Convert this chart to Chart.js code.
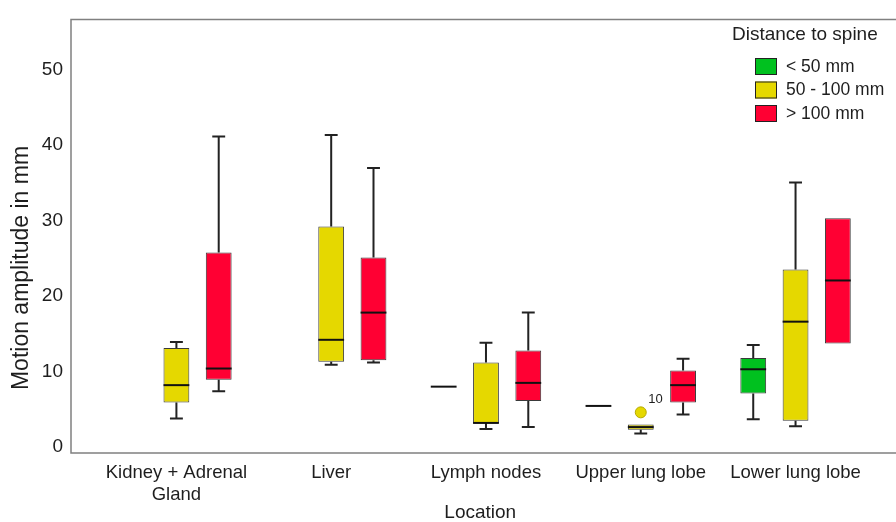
<!DOCTYPE html>
<html>
<head>
<meta charset="utf-8">
<script src="https://cdn.jsdelivr.net/npm/chart.js@4.4.1/dist/chart.umd.min.js"></script>
<style>
html, body { margin: 0; padding: 0; background: #fff; }
</style>
</head>
<body>
<canvas id="chart" width="896" height="522"></canvas>
<script>
const categories = [["Kidney + Adrenal", "Gland"], "Liver", "Lymph nodes", "Upper lung lobe", "Lower lung lobe"];
const seriesNames = ["< 50 mm", "50 - 100 mm", "> 100 mm"];
const seriesColors = ["#00c11f", "#e5d800", "#ff0033"];

// [min, q1, median, q3, max] for each location
const statsUnder50 = [null, null, [8.0, 8.0, 8.0, 8.0, 8.0], [5.45, 5.45, 5.45, 5.45, 5.45], [3.7, 7.1, 10.3, 11.8, 13.5]];
const stats50to100 = [[3.8, 5.9, 8.2, 13.1, 13.9], [10.9, 11.3, 14.2, 29.2, 41.3], [2.4, 3.2, 3.2, 11.2, 13.8], [1.8, 2.3, 2.65, 3.0, 3.0], [2.75, 3.5, 16.6, 23.5, 35.0]];
const statsOver100 = [[7.4, 8.9, 10.4, 25.75, 41.1], [11.2, 11.5, 17.8, 25.1, 36.95], [2.65, 6.1, 8.5, 12.8, 17.8], [4.3, 5.9, 8.2, 10.15, 11.7], [13.7, 13.7, 22.05, 30.3, 30.3]];

// outlier of the 50 - 100 mm group
const outlierLocation = [3];
const outlierValues = [4.6];
const outlierLabels = ["10"];

const yTicks = [0, 10, 20, 30, 40, 50];

const family = "'Liberation Sans', Arial, sans-serif";
const textColor = "#1e1e1e";

function boxDataset(name, color, stats) {
    return {
        label: name,
        backgroundColor: color,
        borderColor: "#3a3a3a",
        borderWidth: 1,
        borderSkipped: false,
        stats: stats,
        data: stats.map((s, i) => ({ x: i, y: s ? [s[1], s[3]] : null }))
    };
}

const allStats = [statsUnder50, stats50to100, statsOver100];
const datasets = allStats.map((s, i) => boxDataset(seriesNames[i], seriesColors[i], s));
datasets.push({
    type: "scatter",
    label: "outliers",
    data: outlierLocation.map((x, i) => ({ x: x, y: outlierValues[i] })),
    pointRadius: 5.5,
    pointBackgroundColor: seriesColors[1],
    pointBorderColor: "#b5a900",
    pointBorderWidth: 1
});

// whiskers, caps and medians
const boxplotPlugin = {
    id: "boxplot",
    afterDatasetsDraw(chart) {
        const ctx = chart.ctx;
        const yScale = chart.scales.y;
        ctx.save();
        chart.data.datasets.forEach((ds, di) => {
            if (!ds.stats) return;
            const meta = chart.getDatasetMeta(di);
            meta.data.forEach((bar, i) => {
                const s = ds.stats[i];
                if (!s) return;
                const { x, width } = bar.getProps(["x", "width"], true);
                const yMin = yScale.getPixelForValue(s[0]);
                const yQ1 = yScale.getPixelForValue(s[1]);
                const yMed = yScale.getPixelForValue(s[2]);
                const yQ3 = yScale.getPixelForValue(s[3]);
                const yMax = yScale.getPixelForValue(s[4]);
                const cap = width * 0.25;
                ctx.strokeStyle = "#222";
                ctx.lineWidth = 2;
                ctx.beginPath();
                if (s[4] > s[3]) {
                    ctx.moveTo(x, yQ3);
                    ctx.lineTo(x, yMax);
                    ctx.moveTo(x - cap, yMax);
                    ctx.lineTo(x + cap, yMax);
                }
                if (s[0] < s[1]) {
                    ctx.moveTo(x, yQ1);
                    ctx.lineTo(x, yMin);
                    ctx.moveTo(x - cap, yMin);
                    ctx.lineTo(x + cap, yMin);
                }
                ctx.stroke();
                ctx.strokeStyle = "#111";
                ctx.beginPath();
                ctx.moveTo(x - width / 2, yMed);
                ctx.lineTo(x + width / 2, yMed);
                ctx.stroke();
            });
        });
        // outlier case labels
        chart.data.datasets.forEach((ds, di) => {
            if (ds.type !== "scatter") return;
            const meta = chart.getDatasetMeta(di);
            meta.data.forEach((pt, i) => {
                ctx.fillStyle = textColor;
                ctx.font = "13px " + family;
                ctx.textAlign = "left";
                ctx.textBaseline = "middle";
                ctx.fillText(outlierLabels[i], pt.x + 7.5, pt.y - 13);
            });
        });
        ctx.restore();
    }
};

// frame, y title and legend
const framePlugin = {
    id: "frame",
    afterDraw(chart) {
        const ctx = chart.ctx;
        const a = chart.chartArea;
        ctx.save();
        ctx.strokeStyle = "#808080";
        ctx.lineWidth = 1.5;
        ctx.beginPath();
        ctx.moveTo(chart.width, a.top);
        ctx.lineTo(a.left, a.top);
        ctx.lineTo(a.left, a.bottom);
        ctx.lineTo(chart.width, a.bottom);
        ctx.stroke();

        ctx.fillStyle = textColor;
        ctx.textAlign = "center";
        ctx.textBaseline = "middle";
        ctx.font = "23px " + family;
        ctx.translate(21.5, 268);
        ctx.rotate(-Math.PI / 2);
        ctx.fillText("Motion amplitude in mm", 0, 0);
        ctx.setTransform(1, 0, 0, 1, 0, 0);

        ctx.textAlign = "left";
        ctx.font = "19px " + family;
        ctx.fillText("Distance to spine", 732, 35);
        ctx.font = "17.5px " + family;
        for (let i = 0; i < seriesNames.length; i++) {
            const top = 58 + i * 23.5;
            ctx.fillStyle = seriesColors[i];
            ctx.fillRect(755, top, 22, 17);
            ctx.strokeStyle = "#222";
            ctx.lineWidth = 1;
            ctx.strokeRect(755.5, top + 0.5, 21, 16);
            ctx.fillStyle = textColor;
            ctx.fillText(seriesNames[i], 786, top + 9);
        }
        ctx.restore();
    }
};

const ctx = document.getElementById("chart").getContext("2d");
new Chart(ctx, {
    type: "bar",
    data: { datasets: datasets },
    options: {
        responsive: false,
        animation: false,
        categoryPercentage: 0.82,
        barPercentage: 0.61,
        layout: { padding: { top: 14, right: 0, bottom: 0, left: 0 } },
        plugins: { legend: { display: false }, tooltip: { enabled: false } },
        scales: {
            x: {
                type: "linear",
                offset: false,
                min: -0.681,
                max: 4.607,
                grid: { display: false, drawTicks: false },
                border: { display: false },
                afterBuildTicks: (s) => { s.ticks = categories.map((c, i) => ({ value: i })); },
                afterFit: (s) => { s.height = 69; },
                ticks: {
                    autoSkip: false,
                    maxRotation: 0,
                    padding: 9,
                    color: textColor,
                    font: { size: 18.5, family: family, lineHeight: 1.2 },
                    callback: (v) => categories[v]
                },
                title: {
                    display: true,
                    text: "Location",
                    color: textColor,
                    font: { size: 19, family: family, lineHeight: 1 },
                    padding: { top: 0, bottom: 0 }
                }
            },
            y: {
                min: -0.78,
                max: 56.6,
                grid: { display: false, drawTicks: false },
                border: { display: false },
                afterBuildTicks: (s) => { s.ticks = yTicks.map((v) => ({ value: v })); },
                afterFit: (s) => { s.width = 71; },
                ticks: {
                    padding: 8,
                    color: textColor,
                    font: { size: 19, family: family }
                }
            }
        }
    },
    plugins: [boxplotPlugin, framePlugin]
});
</script>
</body>
</html>
